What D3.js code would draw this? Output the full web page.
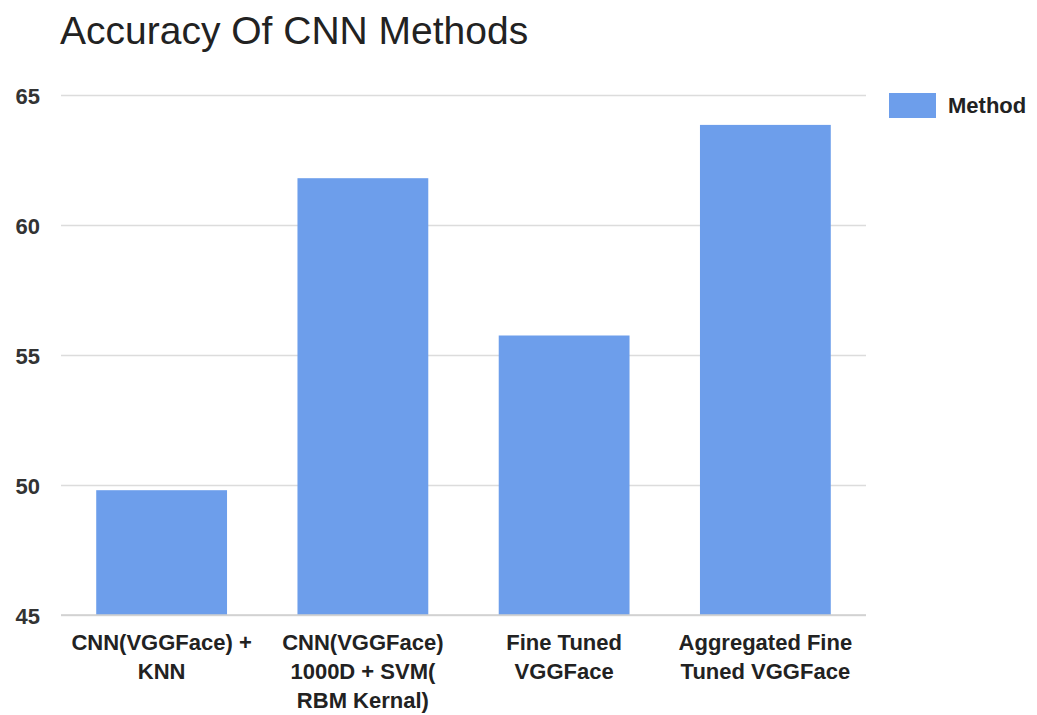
<!DOCTYPE html>
<html>
<head>
<meta charset="utf-8">
<script src="https://cdn.jsdelivr.net/npm/d3@7"></script>
<style>
  html, body { margin: 0; padding: 0; background: #fff; }
  svg { display: block; font-family: "Liberation Sans", Arial, Helvetica, sans-serif; }
</style>
</head>
<body>
<svg id="chart" width="1037" height="715"></svg>
<script>
// Chart data
const categories = [
  ["CNN(VGGFace) +", "KNN"],
  ["CNN(VGGFace)", "1000D + SVM(", "RBM Kernal)"],
  ["Fine Tuned", "VGGFace"],
  ["Aggregated Fine", "Tuned VGGFace"]
];
const values = [49.8, 61.8, 55.75, 63.85];
const yTicks = [45, 50, 55, 60, 65];
const seriesName = "Method";
const titleText = "Accuracy Of CNN Methods";

(function () {
  const svg = d3.select("#chart");
  const plotLeft = 61, plotRight = 866, plotTop = 95, plotBottom = 615;
  const barColor = "#6d9eeb";

  const x = d3.scaleBand()
    .domain(d3.range(categories.length))
    .range([plotLeft, plotRight])
    .paddingInner(0.35)
    .paddingOuter(0.175);

  const y = d3.scaleLinear().domain([45, 65]).range([plotBottom, plotTop]);

  // Title
  svg.append("text")
    .attr("x", 60).attr("y", 44)
    .attr("font-size", 39)
    .attr("fill", "#222")
    .text(titleText);

  // Gridlines and y labels
  const yAxis = d3.axisLeft(y).tickValues(yTicks).tickSize(-(plotRight - plotLeft)).tickPadding(21).tickFormat(d3.format("d"));
  const gy = svg.append("g").attr("transform", `translate(${plotLeft},0)`).call(yAxis);
  gy.select(".domain").remove();
  gy.selectAll(".tick line").attr("stroke", "#dcdcdc").attr("stroke-width", 1.5);
  gy.selectAll(".tick text")
    .attr("font-size", 22).attr("font-weight", "bold").attr("fill", "#333")
    .attr("font-family", "'Liberation Sans', Arial, sans-serif")
    .attr("dy", "0.4em");

  // Bars
  svg.append("g").selectAll("rect")
    .data(values)
    .join("rect")
    .attr("x", (d, i) => x(i))
    .attr("width", x.bandwidth())
    .attr("y", d => y(d))
    .attr("height", d => y(45) - y(d))
    .attr("fill", barColor);

  // Baseline
  svg.append("line")
    .attr("x1", plotLeft).attr("x2", plotRight)
    .attr("y1", y(45)).attr("y2", y(45))
    .attr("stroke", "#cfcfcf").attr("stroke-width", 1.5);

  // Category labels
  const gx = svg.append("g");
  categories.forEach((lines, i) => {
    const cx = x(i) + x.bandwidth() / 2;
    const t = gx.append("text")
      .attr("x", cx)
      .attr("y", 650)
      .attr("text-anchor", "middle")
      .attr("font-size", 22)
      .attr("font-weight", "bold")
      .attr("fill", "#222");
    lines.forEach((s, j) => {
      t.append("tspan").attr("x", cx).attr("dy", j === 0 ? 0 : 29).text(s);
    });
  });

  // Legend
  svg.append("rect").attr("x", 889).attr("y", 93).attr("width", 47).attr("height", 25).attr("fill", barColor);
  svg.append("text")
    .attr("x", 948).attr("y", 113)
    .attr("font-size", 22).attr("font-weight", "bold").attr("fill", "#222")
    .text(seriesName);
})();
</script>
</body>
</html>
